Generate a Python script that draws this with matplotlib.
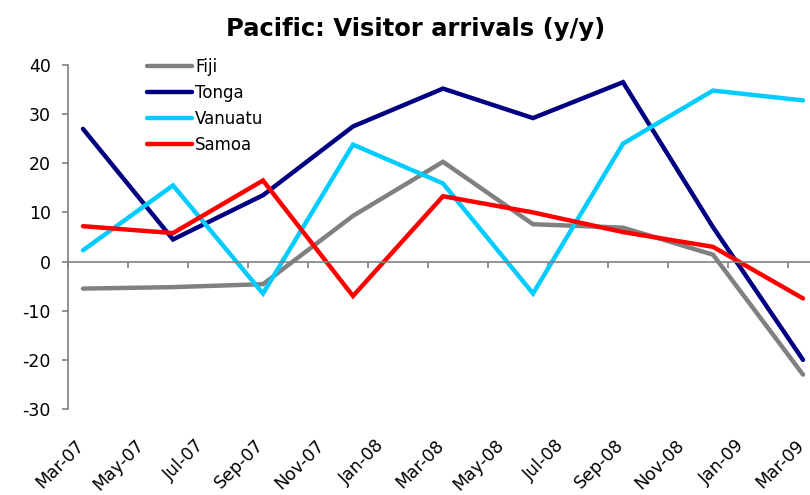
import matplotlib
matplotlib.use("Agg")
import matplotlib.pyplot as plt
import matplotlib.transforms as mtransforms

# Months since Mar-07 for quarterly observations
months = [0, 3, 6, 9, 12, 15, 18, 21, 24]
fiji = [-5.5, -5.2, -4.6, 9.3, 20.3, 7.6, 6.9, 1.4, -23.0]
tonga = [27.0, 4.5, 13.5, 27.5, 35.2, 29.2, 36.5, 7.0, -20.0]
vanuatu = [2.3, 15.5, -6.5, 23.8, 15.9, -6.5, 24.0, 34.8, 32.8]
samoa = [7.2, 5.8, 16.5, -7.0, 13.3, 10.0, 6.0, 3.0, -7.5]

tick_labels = ["Mar-07", "May-07", "Jul-07", "Sep-07", "Nov-07", "Jan-08", "Mar-08",
               "May-08", "Jul-08", "Sep-08", "Nov-08", "Jan-09", "Mar-09"]
yticks = [-30, -20, -10, 0, 10, 20, 30, 40]

plt.rcParams['font.family'] = ['DejaVu Sans']
plt.rcParams['axes.unicode_minus'] = False
fig = plt.figure(figsize=(8.1, 4.95), dpi=100)
W, H = 810, 495
left, right, top, bottom = 68, 810, 65, 409
ax = fig.add_axes([left / W, 1 - bottom / H, (right - left) / W, (bottom - top) / H])

series = [("Fiji", fiji, "#808080"), ("Tonga", tonga, "#000080"),
          ("Vanuatu", vanuatu, "#00CCFF"), ("Samoa", samoa, "#FF0000")]
for name, vals, col in series:
    ax.plot(months, vals, color=col, lw=3.2, label=name, solid_capstyle='round',
            solid_joinstyle='miter')

ax.set_xlim(-0.5, -0.5 + (right - left) / 30)
ax.set_ylim(-30, 40)

grey = "#808080"
for s in ['top', 'right']:
    ax.spines[s].set_visible(False)
ax.spines['left'].set_color(grey)
ax.spines['left'].set_linewidth(1.2)
ax.spines['bottom'].set_position(('data', 0))
ax.spines['bottom'].set_color(grey)
ax.spines['bottom'].set_linewidth(1.2)

ax.set_yticks(yticks)
ax.tick_params(axis='y', direction='out', length=4.5, width=1.2, color=grey,
               labelsize=12.5, pad=8, labelcolor='black')
bounds = [-0.5 + 2 * i for i in range(13)]
ax.set_xticks(bounds)
ax.set_xticklabels([])
ax.tick_params(axis='x', direction='out', length=4.5, width=1.2, color=grey)

trans = mtransforms.blended_transform_factory(ax.transData, fig.transFigure)
off = mtransforms.ScaledTranslation(-8 / 100, 0, fig.dpi_scale_trans)
for i, lab in enumerate(tick_labels):
    ax.text(2 * i, 1 - 436 / H, lab, transform=trans + off, rotation=45,
            rotation_mode='anchor', ha='right', va='top', fontsize=12.5)

leg = ax.legend(loc='upper left', bbox_to_anchor=((140 - left) / (right - left), 1.04),
                frameon=False, fontsize=12, handlelength=2.7, handletextpad=0.2,
                labelspacing=0.48, borderaxespad=0)

fig.text(416 / W, 1 - 36 / H, "Pacific: Visitor arrivals (y/y)", ha='center',
         va='baseline', fontsize=17.5, fontweight='bold')

fig.savefig("out.png", dpi=100)
